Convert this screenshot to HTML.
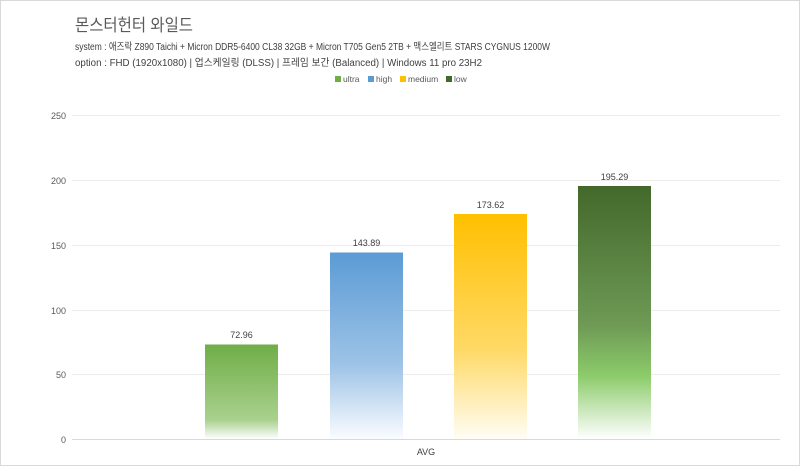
<!DOCTYPE html>
<html><head><meta charset="utf-8"><style>
body{margin:0;width:800px;height:466px;background:#fff;overflow:hidden;font-family:"Liberation Sans","Noto Sans CJK KR",sans-serif;}
</style></head><body>
<svg width="800" height="466" xmlns="http://www.w3.org/2000/svg" font-family="Liberation Sans, Noto Sans CJK KR, sans-serif">
<defs>
<linearGradient id="g1" x1="0" y1="0" x2="0" y2="1"><stop offset="0" stop-color="#70ad47"/><stop offset="0.8" stop-color="#a9d18e"/><stop offset="1" stop-color="#fff"/></linearGradient>
<linearGradient id="g2" x1="0" y1="0" x2="0" y2="1"><stop offset="0" stop-color="#5b9bd5"/><stop offset="0.6" stop-color="#9dc3e6"/><stop offset="1" stop-color="#fafcff"/></linearGradient>
<linearGradient id="g3" x1="0" y1="0" x2="0" y2="1"><stop offset="0" stop-color="#ffc000"/><stop offset="0.6" stop-color="#ffd966"/><stop offset="1" stop-color="#fffdf5"/></linearGradient>
<linearGradient id="g4" x1="0" y1="0" x2="0" y2="1"><stop offset="0" stop-color="#43682b"/><stop offset="0.55" stop-color="#6e9a55"/><stop offset="0.75" stop-color="#8ccb6a"/><stop offset="1" stop-color="#fff"/></linearGradient>
</defs>
<rect x="0.5" y="0.5" width="799" height="465" fill="#fff" stroke="#d9d9d9"/>
<text x="75" y="31" font-size="17" fill="#595959" textLength="118" lengthAdjust="spacingAndGlyphs">몬스터헌터 와일드</text>
<text x="75" y="50" font-size="10" fill="#404040" textLength="475" lengthAdjust="spacingAndGlyphs">system : 애즈락 Z890 Taichi + Micron DDR5-6400 CL38 32GB + Micron T705 Gen5 2TB + 맥스엘리트 STARS CYGNUS 1200W</text>
<text x="75" y="66" font-size="10" fill="#404040" textLength="407" lengthAdjust="spacingAndGlyphs">option :  FHD (1920x1080) | 업스케일링 (DLSS) | 프레임 보간 (Balanced) | Windows 11 pro 23H2</text>
<g font-size="8.5" fill="#595959">
<rect x="335" y="76" width="6" height="6" fill="#70ad47"/><text x="343" y="82">ultra</text>
<rect x="368" y="76" width="6" height="6" fill="#5b9bd5"/><text x="376" y="82">high</text>
<rect x="400" y="76" width="6" height="6" fill="#ffc000"/><text x="408" y="82">medium</text>
<rect x="446" y="76" width="6" height="6" fill="#43682b"/><text x="454" y="82">low</text>
</g>
<g stroke="#ececec" stroke-width="1">
<line x1="72" x2="780" y1="115.5" y2="115.5"/><line x1="72" x2="780" y1="180.5" y2="180.5"/>
<line x1="72" x2="780" y1="245.5" y2="245.5"/><line x1="72" x2="780" y1="310.5" y2="310.5"/>
<line x1="72" x2="780" y1="374.5" y2="374.5"/>
</g>
<line x1="72" x2="780" y1="439.5" y2="439.5" stroke="#d9d9d9"/>
<g font-size="9" fill="#595959" text-anchor="end">
<text x="66" y="119">250</text><text x="66" y="184">200</text><text x="66" y="249">150</text>
<text x="66" y="314">100</text><text x="66" y="378">50</text><text x="66" y="443">0</text>
</g>
<rect x="205" y="344.5" width="73" height="94.5" fill="url(#g1)"/>
<rect x="330" y="252.5" width="73" height="186.5" fill="url(#g2)"/>
<rect x="454" y="214" width="73" height="225" fill="url(#g3)"/>
<rect x="578" y="186" width="73" height="253" fill="url(#g4)"/>
<g font-size="9" fill="#404040" text-anchor="middle">
<text x="241.5" y="338">72.96</text><text x="366.5" y="246">143.89</text>
<text x="490.5" y="208">173.62</text><text x="614.5" y="180">195.29</text>
<text x="426" y="455">AVG</text>
</g>
</svg>
</body></html>
